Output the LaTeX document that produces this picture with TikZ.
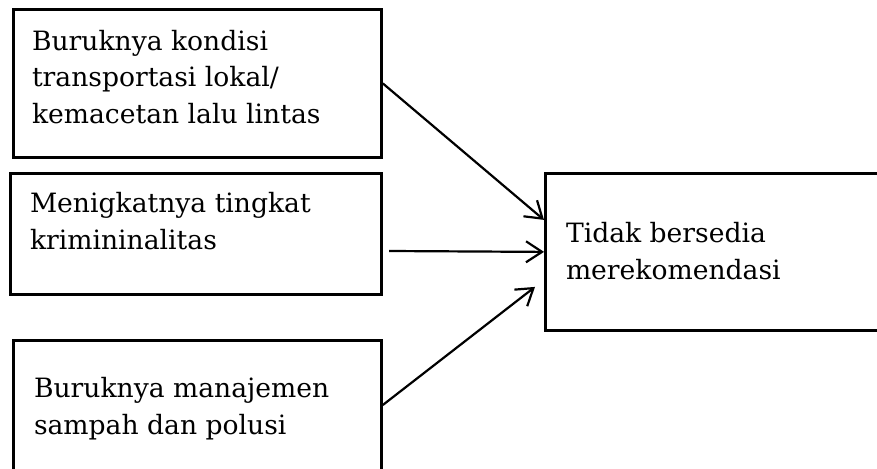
\documentclass[tikz,border=0pt]{standalone}
\usepackage{fontspec}
\setmainfont{DejaVu Serif}
\usetikzlibrary{arrows.meta,calc}
\begin{document}
\begin{tikzpicture}[x=1pt,y=-1pt,
  box/.style={draw,line width=2.8pt,inner sep=0pt,anchor=north west},
  txt/.style={inner sep=0pt,outer sep=0pt,align=left,anchor=north west,
              font=\fontsize{26.6}{36.5}\selectfont},
  conn/.style={line width=2.2pt,-{Straight Barb[length=16pt,width=21pt]}}]
  \clip (0,0) rectangle (877,468);

  % cause boxes on the left
  \node[box,minimum width=368pt,minimum height=148pt] (b1) at (12,8) {};
  \node[box,minimum width=371pt,minimum height=121pt] (b2) at (9,172) {};
  \node[box,minimum width=368pt,minimum height=141pt] (b3) at (12,339) {};
  % effect box on the right
  \node[box,minimum width=346pt,minimum height=157pt] (r) at (544,172) {};

  \node[txt] (t1) at (32,30) {Buruknya kondisi\\transportasi lokal/\\kemacetan lalu lintas};
  \node[txt] (t2) at (30,192.7) {Menigkatnya tingkat\\krimininalitas};
  \node[txt] (t3) at (34,377.7) {Buruknya manajemen\\sampah dan polusi};
  \node[txt] (tr) at (566,222.7) {Tidak bersedia\\merekomendasi};

  % connector end points
  \coordinate (e1) at ($(r.west)+(0,-32)$);
  \coordinate (s2) at (389,251);
  \coordinate (s3) at ($(b3.north east)+(0,66)$);
  \coordinate (e3) at ($(r.west)+(-9,35)$);

  \draw[conn] (b1.east) -- (e1);
  \draw[conn] (s2) -- (r.west);
  \draw[conn] (s3) -- (e3);
\end{tikzpicture}
\end{document}
